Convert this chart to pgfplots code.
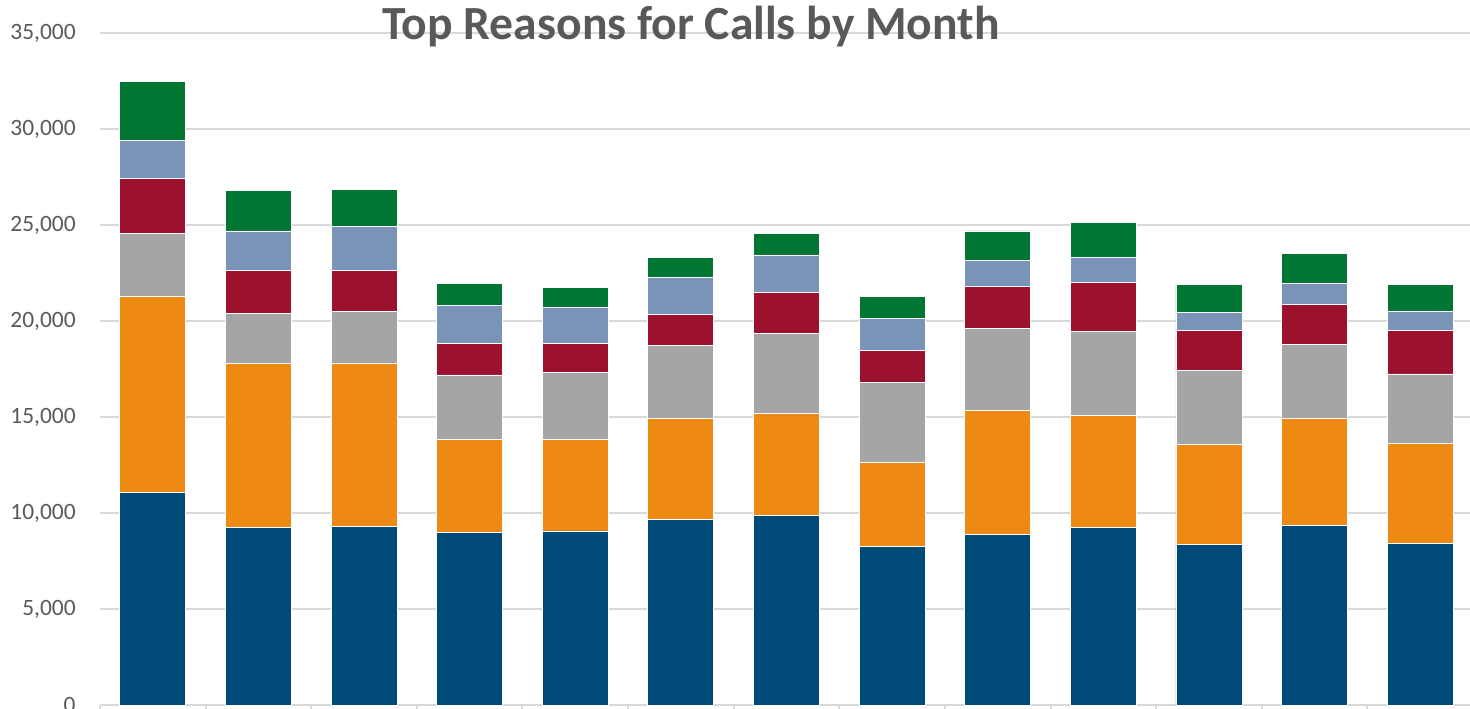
\documentclass[border=0pt]{standalone}
\usepackage{fontspec}
\setmainfont{Carlito}
\usepackage{pgfplots}
\pgfplotsset{compat=1.18}
\definecolor{cnavy}{HTML}{004A77}
\definecolor{corange}{HTML}{EE8A14}
\definecolor{cgray}{HTML}{A5A5A5}
\definecolor{cred}{HTML}{9B112E}
\definecolor{cblue}{HTML}{7A94B8}
\definecolor{cgreen}{HTML}{007632}
\definecolor{gridgray}{HTML}{D9D9D9}
\definecolor{labelgray}{HTML}{595959}
\begin{document}
\begin{tikzpicture}
\begin{axis}[
  at={(0,0)}, anchor=south west,
  scale only axis, width=686.5pt, height=336pt,
  xmin=-0.5, xmax=12.5, ymin=0, ymax=35000,
  ybar stacked, bar width=33pt,
  axis x line=bottom, axis y line=left,
  axis line style={-},
  y axis line style={draw=none},
  x axis line style={draw=gridgray, line width=1pt},
  ytick={0,5000,...,35000},
  scaled y ticks=false,
  ymajorgrids, grid style={draw=gridgray, line width=1pt},
  xtick={-0.5,0.5,...,12.5}, xticklabels={},
  tick align=outside,
  y tick style={draw=none},
  x tick style={draw=gridgray, line width=1pt},
  major tick length=4pt,
  yticklabel style={font=\fontsize{11.7}{14}\selectfont, text=labelgray, inner sep=0pt,
    /pgf/number format/fixed, /pgf/number format/precision=0,
    /pgf/number format/assume math mode=true,
    /pgf/number format/1000 sep={,}},
  yticklabel shift=8pt,
  every axis plot/.append style={draw=white, line width=0.4pt},
]
\addplot[fill=cnavy] coordinates {(0,11094) (1,9271) (2,9287) (3,8974) (4,9063) (5,9672) (6,9896) (7,8245) (8,8870) (9,9255) (10,8370) (11,9375) (12,8422)};
\addplot[fill=corange] coordinates {(0,10172) (1,8505) (2,8526) (3,4844) (4,4776) (5,5239) (6,5297) (7,4396) (8,6479) (9,5849) (10,5208) (11,5536) (12,5224)};
\addplot[fill=cgray] coordinates {(0,3281) (1,2604) (2,2692) (3,3370) (4,3468) (5,3802) (6,4166) (7,4182) (8,4250) (9,4360) (10,3833) (11,3891) (12,3594)};
\addplot[fill=cred] coordinates {(0,2864) (1,2276) (2,2115) (3,1650) (4,1531) (5,1615) (6,2151) (7,1630) (8,2188) (9,2552) (10,2084) (11,2083) (12,2255)};
\addplot[fill=cblue] coordinates {(0,2016) (1,2032) (2,2312) (3,1995) (4,1855) (5,1948) (6,1928) (7,1688) (8,1390) (9,1317) (10,958) (11,1094) (12,1010)};
\addplot[fill=cgreen] coordinates {(0,3037) (1,2099) (2,1907) (3,1110) (4,1062) (5,1042) (6,1130) (7,1125) (8,1511) (9,1787) (10,1458) (11,1547) (12,1422)};
\end{axis}
\node[anchor=base, font=\fontsize{23.8}{28}\selectfont\bfseries, text=labelgray, inner sep=0pt] at (295.5pt,332.5pt) {Top Reasons for Calls by Month};
\pgfresetboundingbox
\useasboundingbox (-50pt,-1.5pt) rectangle (685pt,352.5pt);
\end{tikzpicture}
\end{document}
